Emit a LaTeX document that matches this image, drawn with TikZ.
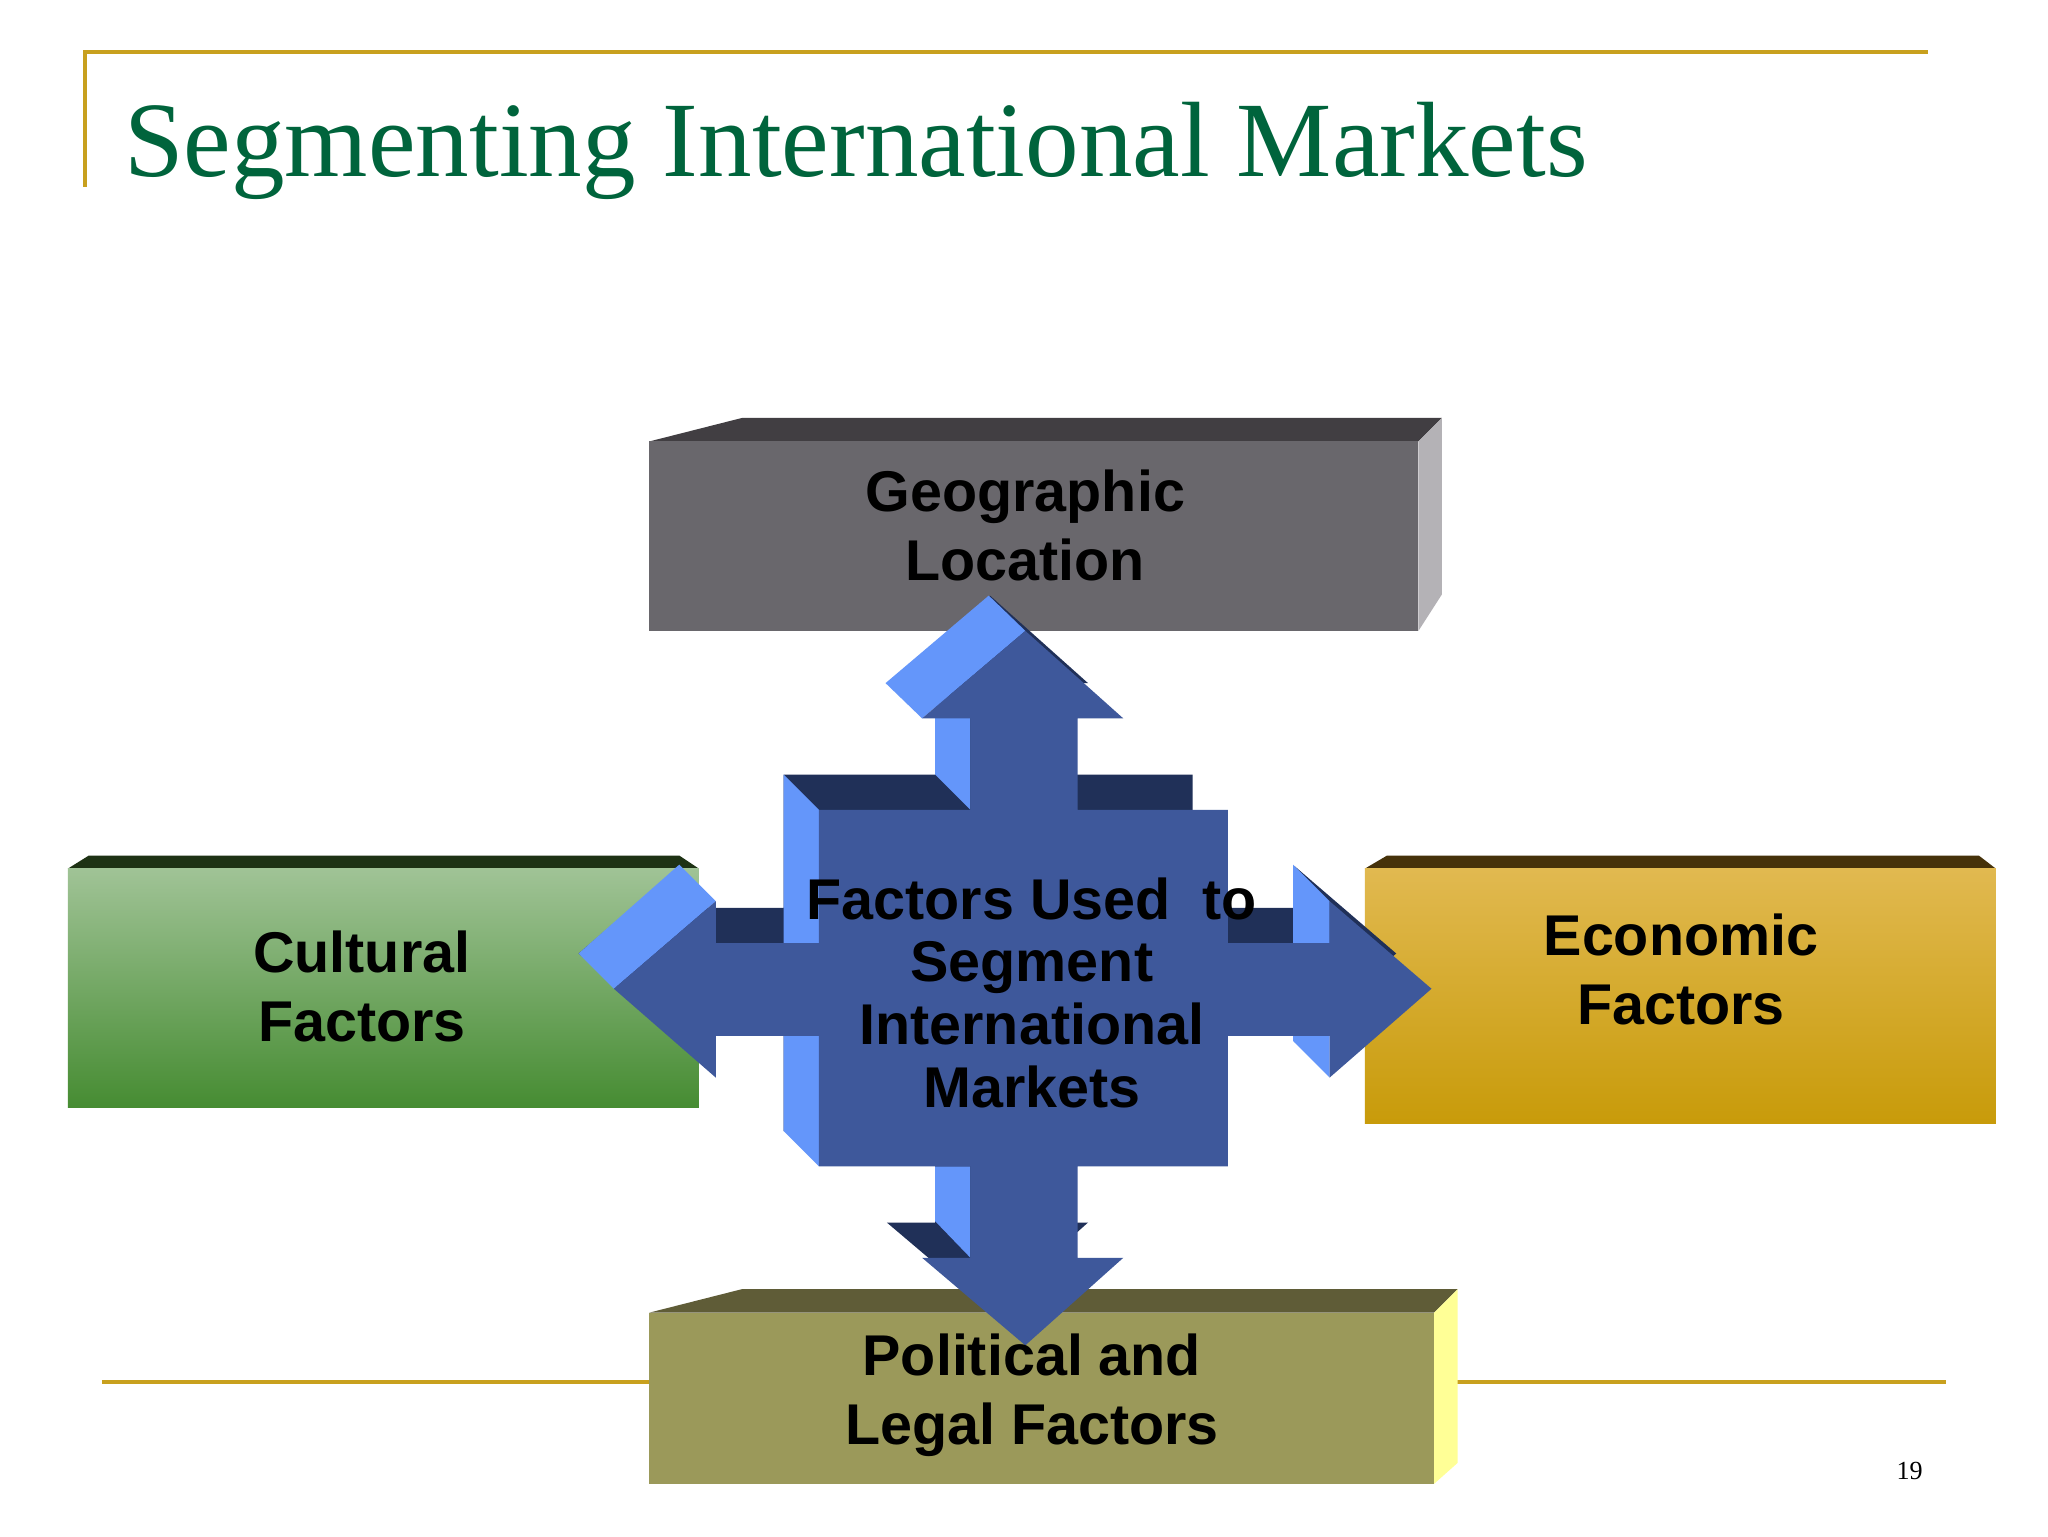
\documentclass[tikz,border=0pt]{standalone}
\usepackage{fontspec}
\setmainfont{Liberation Serif}
\setsansfont{Liberation Sans}
\definecolor{gold}{RGB}{200,160,30}
\definecolor{ttl}{RGB}{0,100,60}
\definecolor{bfront}{RGB}{62,88,155}
\definecolor{bdark}{RGB}{32,48,88}
\definecolor{blight}{RGB}{100,150,250}
\tikzset{lbl/.style={font=\sffamily\bfseries\fontsize{44}{53}\selectfont,align=center,text=black}}
\begin{document}
\begin{tikzpicture}[x=1pt,y=-1pt]
\useasboundingbox (0,0) rectangle (1568,1176);
\fill[white] (0,0) rectangle (1568,1176);
% frame lines
\draw[gold,line width=3] (65,143) -- (65,40) -- (1476,40);
\draw[gold,line width=3] (78,1058) -- (1490,1058);
\node[anchor=base west,text=ttl,font=\fontsize{82}{90}\selectfont,inner sep=0] (title) at (95,135) {Segmenting International Markets};
\node[font=\fontsize{20}{24}\selectfont] (pg) at (1462,1126) {19};
% Geographic
\fill[RGB/.style={},fill={rgb,255:red,65;green,62;blue,66}] (497,338) -- (568,320) -- (1104,320) -- (1086,338) -- cycle;
\fill[fill={rgb,255:red,180;green,178;blue,182}] (1086,338) -- (1104,320) -- (1104,455) -- (1086,483) -- cycle;
\fill[fill={rgb,255:red,105;green,103;blue,108}] (497,338) rectangle (1086,483);
% Cultural
\fill[fill={rgb,255:red,30;green,50;blue,20}] (52,665) -- (68,655) -- (520,655) -- (535,665) -- cycle;
\shade[top color={rgb,255:red,160;green,195;blue,150},bottom color={rgb,255:red,70;green,140;blue,50}] (52,665) rectangle (535,848);
% Economic
\fill[fill={rgb,255:red,70;green,50;blue,10}] (1045,665) -- (1062,655) -- (1515,655) -- (1528,665) -- cycle;
\shade[top color={rgb,255:red,225;green,185;blue,80},bottom color={rgb,255:red,200;green,155;blue,10}] (1045,665) rectangle (1528,860);
% Political
\fill[fill={rgb,255:red,95;green,92;blue,55}] (497,1005) -- (568,987) -- (1116,987) -- (1098,1005) -- cycle;
\fill[fill={rgb,255:red,255;green,255;blue,150}] (1098,1005) -- (1116,987) -- (1116,1120) -- (1098,1136) -- cycle;
\fill[fill={rgb,255:red,155;green,153;blue,90}] (497,1005) rectangle (1098,1136);
% Cross arrow: bevel
\begin{scope}[shift={(-27,-27)}]
\fill[bdark] (785,483) -- (860,550) -- (825,550) -- (825,620) -- (940,620) -- (940,722) -- (1018,722) -- (1018,690) -- (1096,757) -- (1018,825) -- (1018,793) -- (940,793) -- (940,893) -- (825,893) -- (825,963) -- (860,963) -- (785,1030) -- (706,963) -- (743,963) -- (743,893) -- (627,893) -- (627,793) -- (548,793) -- (548,825) -- (470,757) -- (548,690) -- (548,722) -- (627,722) -- (627,620) -- (743,620) -- (743,550) -- (706,550) -- cycle;
\end{scope}
\fill[blight] (678,523) -- (757,456) -- (785,483) -- (706,550) -- cycle;
\fill[blight] (716,523) -- (743,550) -- (743,620) -- (716,593) -- cycle;
\fill[blight] (600,593) -- (627,620) -- (627,893) -- (600,866) -- cycle;
\fill[blight] (443,730) -- (520,662) -- (548,690) -- (470,757) -- cycle;
\fill[blight] (990,662) -- (1018,690) -- (1018,722) -- (990,722) -- cycle;
\fill[blight] (990,793) -- (1018,793) -- (1018,825) -- (990,797) -- cycle;
\fill[blight] (716,893) -- (743,893) -- (743,963) -- (716,935) -- cycle;
\fill[bfront] (785,483) -- (860,550) -- (825,550) -- (825,620) -- (940,620) -- (940,722) -- (1018,722) -- (1018,690) -- (1096,757) -- (1018,825) -- (1018,793) -- (940,793) -- (940,893) -- (825,893) -- (825,963) -- (860,963) -- (785,1030) -- (706,963) -- (743,963) -- (743,893) -- (627,893) -- (627,793) -- (548,793) -- (548,825) -- (470,757) -- (548,690) -- (548,722) -- (627,722) -- (627,620) -- (743,620) -- (743,550) -- (706,550) -- cycle;
% labels
\node[lbl] (geo) at (785,402) {Geographic\\Location};
\node[lbl] (cul) at (277,755) {Cultural\\Factors};
\node[lbl] (eco) at (1287,742) {Economic\\Factors};
\node[lbl] (pol) at (790,1068) {Political and\\Legal Factors};
\node[lbl,font=\sffamily\bfseries\fontsize{44}{48}\selectfont] (ctr) at (790,760) {Factors Used\ \ to\\Segment\\International\\Markets};
\end{tikzpicture}
\end{document}
